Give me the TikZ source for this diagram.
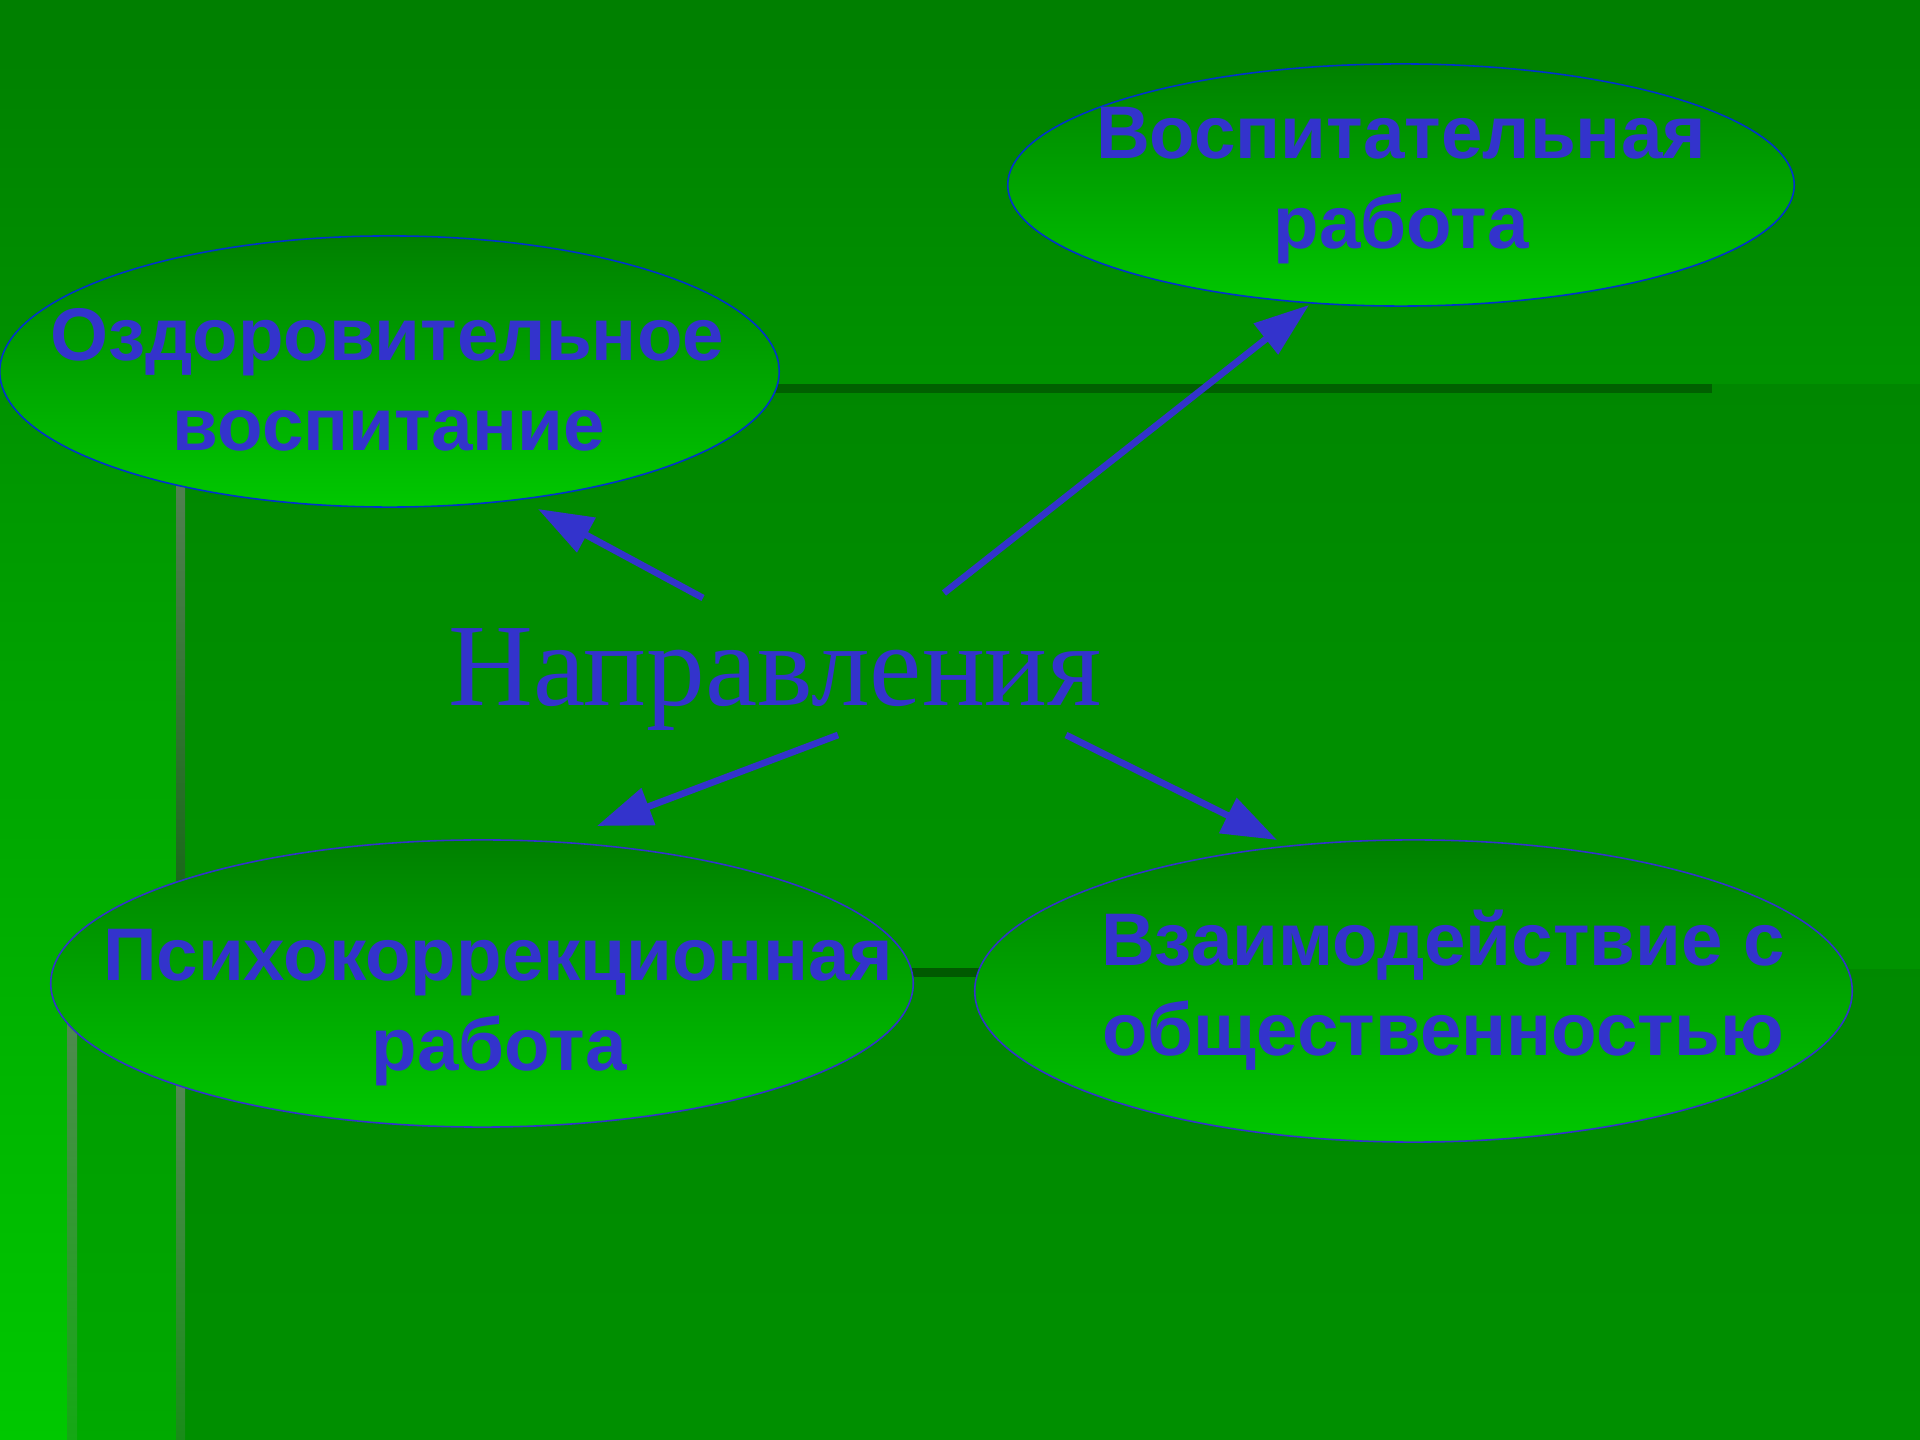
\documentclass[tikz,border=0pt]{standalone}
\usepackage{fontspec}
\setmainfont{Liberation Serif}
\newfontfamily\labelfont{Liberation Sans}
\usetikzlibrary{arrows.meta,shapes.geometric}

% slide palette
\definecolor{bgtop}{RGB}{0,127,0}
\definecolor{bgbot}{RGB}{0,200,0}
\definecolor{panelB}{RGB}{0,128,0}
\definecolor{panelA}{RGB}{0,122,0}
\definecolor{ruleA}{RGB}{0,90,0}
\definecolor{ruleB}{RGB}{0,96,0}
\definecolor{ink}{RGB}{51,51,204}
\definecolor{rimblue}{RGB}{0,51,204}
\definecolor{rimviolet}{RGB}{51,51,204}
\definecolor{bubtop}{RGB}{0,128,0}
\definecolor{bubbot}{RGB}{0,200,0}

\begin{document}
\begin{tikzpicture}[x=0.01cm,y=-0.01cm,
  bubble/.style={ellipse, draw=#1, line width=0.45pt, top color=bubtop,
    bottom color=bubbot, inner sep=0pt, outer sep=0pt},
  bold/.style={anchor=base, inner sep=0pt, text=ink,
    font=\labelfont\bfseries\fontsize{21.2}{25}\selectfont},
  title/.style={anchor=base, inner sep=0pt, text=ink,
    font=\fontsize{33.4}{38}\selectfont},
  arr/.style={draw=ink, line width=1.9pt,
    -{Triangle[length=0.55cm,width=0.38cm]}}]

\useasboundingbox (0,0) rectangle (1920,1440);

% background: base gradient and two translucent panels
\shade[top color=bgtop, bottom color=bgbot] (0,0) rectangle (1920,1440);
\fill[panelB, fill opacity=0.586] (185,384) rectangle (1920,1440);
\fill[panelA, fill opacity=0.385] (77,969) rectangle (1920,1440);

% panel rules
\fill[ruleB] (176,384) rectangle (1712,393);
\fill[ruleA] (67,968) rectangle (1700,977);
\shade[top color={rgb,255:red,94;green,134;blue,94},
       bottom color={rgb,255:red,14;green,101;blue,14}] (176,384) rectangle (185,969);
\shade[top color={rgb,255:red,99;green,135;blue,99},
       bottom color={rgb,255:red,24;green,140;blue,24}] (176,969) rectangle (185,1440);
\shade[top color={rgb,255:red,86;green,134;blue,86},
       bottom color={rgb,255:red,20;green,168;blue,20}] (67,969) rectangle (77,1440);

% bubbles
\node[bubble=rimblue, minimum width=7.86cm, minimum height=2.42cm] (vosp) at (1401,185) {};
\node[bubble=rimblue, minimum width=7.79cm, minimum height=2.71cm] (ozd) at (389.5,371.5) {};
\node[bubble=rimviolet, minimum width=8.62cm, minimum height=2.87cm] (psy) at (482,983.5) {};
\node[bubble=rimviolet, minimum width=8.77cm, minimum height=3.02cm] (vzm) at (1413.5,991) {};

% bubble labels
\node[bold] (vosp1) at (1401,159) {Воспитательная};
\node[bold] (vosp2) at (1401,249) {работа};
\node[bold] (ozd1) at (387,361) {Оздоровительное};
\node[bold] (ozd2) at (389,451) {воспитание};
\node[bold] (psy1) at (498,981) {Психокоррекционная};
\node[bold] (psy2) at (499,1071) {работа};
\node[bold] (vzm1) at (1443,966) {Взаимодействие с};
\node[bold] (vzm2) at (1443,1056) {общественностью};

% central heading
\node[title] (dir) at (775,706) {Направления};

% arrow ends
\coordinate (fromA) at (703,598);  \coordinate (toA) at (538,509);
\coordinate (fromB) at (944,593);  \coordinate (toB) at (1309,305);
\coordinate (fromC) at (838,735);  \coordinate (toC) at (597,826);
\coordinate (fromD) at (1066,735); \coordinate (toD) at (1277,840);

\draw[arr] (fromA) -- (toA);
\draw[arr] (fromB) -- (toB);
\draw[arr] (fromC) -- (toC);
\draw[arr] (fromD) -- (toD);

\end{tikzpicture}
\end{document}
